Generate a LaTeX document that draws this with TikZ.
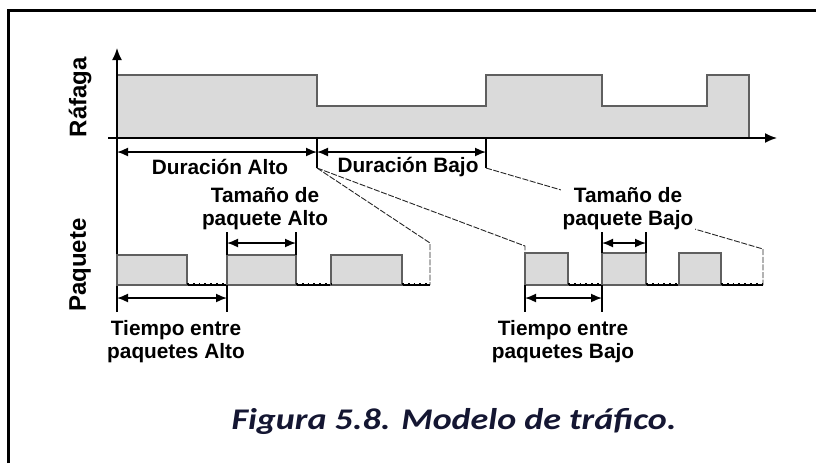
\documentclass[tikz,border=0pt]{standalone}
\usepackage{fontspec}
\setmainfont{Liberation Sans}
\newfontfamily\capfont[FakeStretch=1.2]{Carlito}
\usetikzlibrary{arrows.meta}
\definecolor{fillgray}{RGB}{218,218,218}
\definecolor{edgegray}{RGB}{95,95,95}
\definecolor{capblue}{RGB}{20,22,50}
\begin{document}
\begin{tikzpicture}[x=0.5pt,y=-0.5pt,
    lbl/.style={font=\bfseries\fontsize{10.4}{11.5}\selectfont, align=center, inner sep=1pt},
    axlbl/.style={font=\bfseries\fontsize{12}{14}\selectfont, rotate=90},
    sigline/.style={draw=edgegray, line width=0.6pt},
    dimarrow/.style={{Latex[length=5.5pt,width=4.5pt]}-{Latex[length=5.5pt,width=4.5pt]}, line width=0.8pt},
    tickline/.style={line width=0.6pt},
    zoomline/.style={dash pattern=on 3pt off 0.8pt, line width=0.45pt, black!85},
    gapline/.style={dotted, line width=0.9pt}]
    \useasboundingbox (0,0) rectangle (816,463);
    \draw[line width=1.1pt] (8.5,463) -- (8.5,10.5) -- (816,10.5);

    % rafaga
    \fill[fillgray] (117,138) -- (117,75) -- (317,75) -- (317,106) -- (486,106) -- (486,75) -- (602,75) -- (602,106) -- (707,106) -- (707,75) -- (749,75) -- (749,138) -- cycle;
    \draw[sigline] (117,75) -- (317,75) -- (317,106) -- (486,106) -- (486,75) -- (602,75) -- (602,106) -- (707,106) -- (707,75) -- (749,75) -- (749,138);
    \coordinate (ytop) at (117,48);
    \coordinate (ybot) at (117,312);
    \coordinate (xleft) at (108,138);
    \coordinate (xright) at (777,138);
    \draw[-{Latex[length=6pt,width=5pt]}, line width=0.8pt] (ybot) -- (ytop);
    \draw[-{Latex[length=6pt,width=5pt]}, line width=0.8pt] (xleft) -- (xright);
    \node[axlbl] (rafaga) at (80,97) {Ráfaga};
    \node[axlbl] (paquete) at (80,265) {Paquete};

    % duraciones
    \coordinate (altoEnd) at (317,168);
    \coordinate (bajoEnd) at (486,168);
    \draw[tickline] (317,138) -- (altoEnd);
    \draw[tickline] (486,138) -- (bajoEnd);
    \draw[dimarrow] (117,152) -- (317,152);
    \draw[dimarrow] (317,152) -- (486,152);
    \node[lbl] (durAlto) at (220,167) {Duración Alto};
    \node[lbl] (durBajo) at (408,167) {Duración Bajo};

    % lineas de zoom
    \draw[zoomline] (altoEnd) -- (430,243) -- (430,285);
    \draw[zoomline] (altoEnd) -- (525,246) -- (525,254);
    \draw[zoomline] (bajoEnd) -- (763,249) -- (763,285);

    % paquetes alto
    \draw[tickline] (117,285) -- (430,285);
    \filldraw[fill=fillgray, sigline] (117,285) rectangle (187,255);
    \filldraw[fill=fillgray, sigline] (227,285) rectangle (296,255);
    \filldraw[fill=fillgray, sigline] (331,285) rectangle (402,255);
    \draw[gapline] (187,284) -- (227,284);
    \draw[gapline] (296,284) -- (331,284);
    \draw[gapline] (402,284) -- (430,284);

    % paquetes bajo
    \draw[tickline] (525,285) -- (763,285);
    \filldraw[fill=fillgray, sigline] (525,285) rectangle (568,253);
    \filldraw[fill=fillgray, sigline] (602,285) rectangle (646,253);
    \filldraw[fill=fillgray, sigline] (679,285) rectangle (721,253);
    \draw[gapline] (568,284) -- (602,284);
    \draw[gapline] (646,284) -- (679,284);
    \draw[gapline] (721,284) -- (763,284);

    % tamano de paquete
    \draw[tickline] (227,232) -- (227,255);
    \draw[tickline] (296,232) -- (296,255);
    \draw[dimarrow] (227,243) -- (296,243);
    \node[lbl] (tamAlto) at (265,209) {Tamaño de\\paquete Alto};
    \draw[tickline] (602,232) -- (602,253);
    \draw[tickline] (646,232) -- (646,253);
    \draw[dimarrow] (602,243) -- (646,243);
    \node[lbl, fill=white] (tamBajo) at (628,209) {Tamaño de\\paquete Bajo};

    % tiempo entre paquetes
    \draw[tickline] (227,285) -- (227,312);
    \draw[dimarrow] (117,298) -- (227,298);
    \node[lbl] (tiempoAlto) at (176,342) {Tiempo entre\\paquetes Alto};
    \draw[tickline] (525,285) -- (525,312);
    \draw[tickline] (602,285) -- (602,312);
    \draw[dimarrow] (525,298) -- (602,298);
    \node[lbl] (tiempoBajo) at (563,342) {Tiempo entre\\paquetes Bajo};

    \node[font=\capfont\bfseries\itshape\fontsize{15}{18}\selectfont, text=capblue] (caption) at (454,421) {Figura 5.8. Modelo de tráfico.};
\end{tikzpicture}
\end{document}
